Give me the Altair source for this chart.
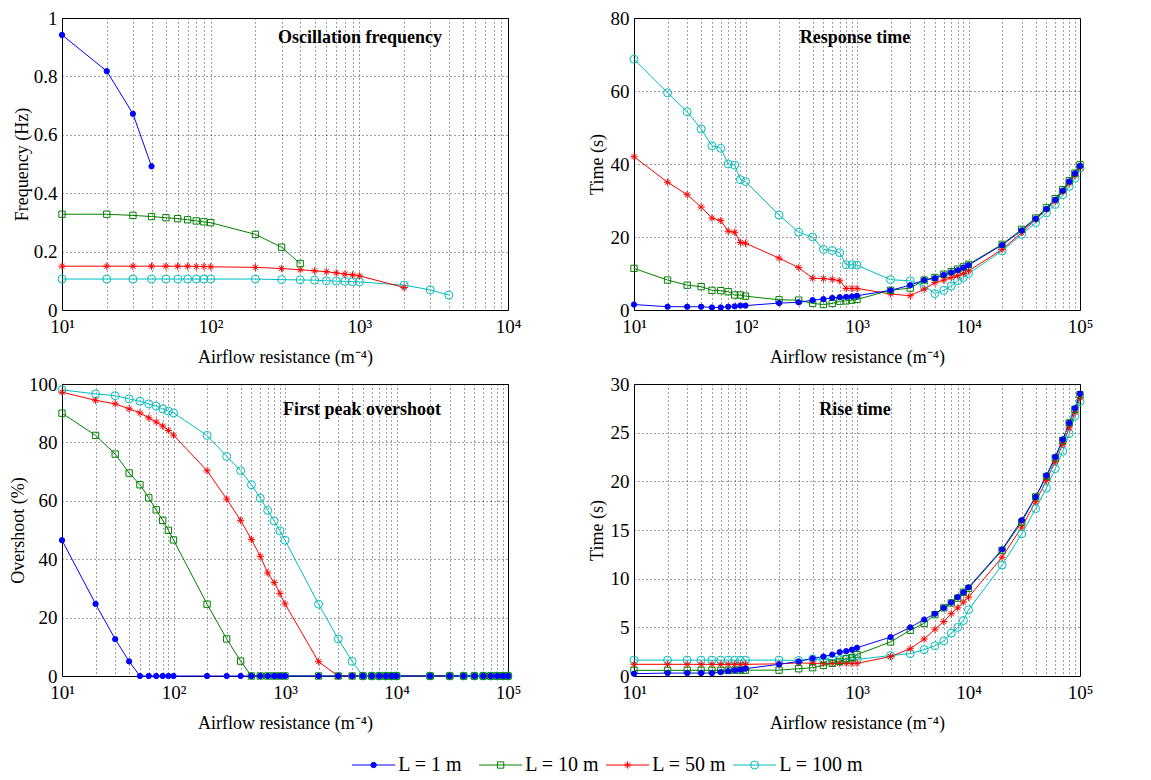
import altair as alt
import pandas as pd

FONT = "Liberation Serif"

SERIES = ["L = 1 m", "L = 10 m", "L = 50 m", "L = 100 m"]
COLORS = ["#0000ff", "#008000", "#ff0000", "#00bfbf"]
ASTERISK = "M0,-1L0,1M-1,0L1,0M-0.7,-0.7L0.7,0.7M-0.7,0.7L0.7,-0.7"
SHAPES = ["circle", "square", ASTERISK, "circle"]
FILLS = ["#0000ff", "transparent", "transparent", "transparent"]
SIZES = [28, 64, 95, 70]
DRAW_ORDER = ["L = 100 m", "L = 50 m", "L = 10 m", "L = 1 m"]

# x tick / grid positions
XTICKS_4 = [10, 20, 30, 40, 50, 60, 70, 80, 90,
            100, 200, 300, 400, 500, 600, 700, 800, 900,
            1000, 2000, 3000, 4000, 5000, 6000, 7000, 8000, 9000, 10000]
XTICKS_5 = XTICKS_4 + [20000, 30000, 40000, 50000, 60000, 70000, 80000, 90000, 100000]

# common airflow resistance values used by panels 2-4
X_ALL = [10, 20, 30, 40, 50, 60, 70, 80, 90,
         100, 200, 300, 400, 500, 600, 700, 800, 900,
         1000, 2000, 3000, 4000, 5000, 6000, 7000, 8000, 9000,
         10000, 20000, 30000, 40000, 50000, 60000, 70000, 80000, 90000, 100000]

# ---- Panel 1: oscillation frequency (Hz)
FREQ_X_L1 = [10, 20, 30, 40]
FREQ_L1 = [0.942, 0.818, 0.672, 0.492]
FREQ_X_L10 = [10, 20, 30, 40, 50, 60, 70, 80, 90, 100, 200, 300, 400]
FREQ_L10 = [0.328, 0.328, 0.324, 0.320, 0.316, 0.313, 0.309, 0.305, 0.302, 0.299, 0.259, 0.215, 0.159]
FREQ_X_L50 = [10, 20, 30, 40, 50, 60, 70, 80, 90, 100, 200, 300, 400, 500, 600, 700, 800, 900, 1000, 2000]
FREQ_L50 = [0.150, 0.150, 0.150, 0.150, 0.150, 0.150, 0.150, 0.149, 0.149, 0.148,
            0.146, 0.142, 0.138, 0.134, 0.131, 0.127, 0.123, 0.120, 0.117, 0.077]
FREQ_X_L100 = [10, 20, 30, 40, 50, 60, 70, 80, 90, 100, 200, 300, 400, 500, 600, 700, 800, 900, 1000,
               2000, 3000, 4000]
FREQ_L100 = [0.106, 0.106, 0.106, 0.106, 0.106, 0.106, 0.106, 0.106, 0.106, 0.106,
             0.106, 0.104, 0.103, 0.102, 0.100, 0.099, 0.098, 0.097, 0.096,
             0.085, 0.069, 0.051]

# ---- Panel 2: response time (s)
RESP_L1 = [1.5, 0.9, 0.9, 0.9, 0.7, 0.7, 0.9, 1.0, 1.2, 1.2,
           1.9, 2.1, 2.7, 3.0, 3.3, 3.5, 3.6, 3.7, 3.9,
           5.4, 6.8, 8.2, 8.7, 9.6, 10.3, 10.9, 11.6, 12.3,
           17.8, 21.8, 25.0, 27.7, 30.2, 32.7, 35.2, 37.4, 39.5]
RESP_L10 = [11.4, 8.2, 6.8, 6.4, 5.4, 5.3, 5.0, 4.1, 4.1, 3.8,
            2.8, 2.7, 1.8, 1.5, 1.8, 2.4, 2.5, 2.7, 2.9,
            5.4, 6.0, 8.2, 8.9, 9.8, 10.5, 11.2, 11.8, 12.5,
            18.0, 22.1, 25.2, 28.0, 30.5, 33.0, 35.4, 37.5, 39.8]
RESP_L50 = [42.0, 35.0, 31.6, 28.2, 25.2, 24.5, 21.6, 21.3, 18.5, 18.3,
            14.2, 11.6, 8.7, 8.6, 8.4, 8.0, 5.9, 5.9, 5.9,
            4.4, 3.9, 5.7, 7.5, 8.2, 8.9, 9.4, 10.0, 10.7,
            16.6, 21.2, 24.8, 27.5, 29.8, 32.5, 34.8, 36.9, 39.1]
RESP_L100 = [68.7, 59.5, 54.3, 49.6, 45.0, 44.3, 40.0, 39.7, 35.7, 35.2,
             26.0, 21.3, 20.0, 16.6, 16.3, 15.7, 12.4, 12.4, 12.3,
             8.3, 8.0, 6.6, 4.5, 5.4, 6.6, 8.0, 8.9, 10.0,
             16.2, 20.7, 23.9, 26.6, 28.9, 31.6, 33.9, 36.1, 38.9]

# ---- Panel 3: first peak overshoot (%)
OVER_L1 = [46.5, 24.7, 12.6, 5.0, 0, 0, 0, 0, 0, 0,
           0, 0, 0, 0, 0, 0, 0, 0, 0,
           0, 0, 0, 0, 0, 0, 0, 0, 0,
           0, 0, 0, 0, 0, 0, 0, 0, 0]
OVER_L10 = [90.0, 82.4, 76.0, 69.5, 65.5, 61.0, 56.9, 53.3, 49.9, 46.6,
            24.6, 12.7, 5.1, 0, 0, 0, 0, 0, 0,
            0, 0, 0, 0, 0, 0, 0, 0, 0,
            0, 0, 0, 0, 0, 0, 0, 0, 0]
OVER_L50 = [97.2, 94.4, 93.2, 91.5, 90.1, 88.4, 87.0, 85.6, 84.1, 82.5,
            70.3, 60.6, 53.3, 46.8, 41.0, 35.3, 32.0, 28.3, 24.7,
            4.9, 0, 0, 0, 0, 0, 0, 0, 0,
            0, 0, 0, 0, 0, 0, 0, 0, 0]
OVER_L100 = [98.0, 96.6, 96.0, 94.9, 94.1, 93.2, 92.4, 91.5, 90.7, 90.1,
             82.4, 75.2, 70.3, 65.5, 60.9, 56.7, 53.1, 49.7, 46.5,
             24.6, 12.7, 5.0, 0, 0, 0, 0, 0, 0,
             0, 0, 0, 0, 0, 0, 0, 0, 0]

# ---- Panel 4: rise time (s)
RISE_L1 = [0.24, 0.3, 0.3, 0.3, 0.3, 0.4, 0.5, 0.6, 0.65, 0.75,
           1.2, 1.5, 1.8, 2.0, 2.2, 2.45, 2.55, 2.7, 2.9,
           4.0, 5.0, 5.8, 6.4, 7.0, 7.55, 8.1, 8.6, 9.1,
           13.0, 16.0, 18.4, 20.6, 22.5, 24.3, 26.0, 27.5, 29.0]
RISE_L10 = [0.58, 0.58, 0.58, 0.58, 0.58, 0.58, 0.58, 0.6, 0.6, 0.6,
            0.6, 0.75, 0.85, 1.1, 1.3, 1.5, 1.8, 1.9, 2.2,
            3.5, 4.7, 5.4, 6.3, 7.0, 7.5, 8.0, 8.6, 9.0,
            12.9, 15.8, 18.4, 20.5, 22.4, 24.2, 26.0, 27.4, 28.9]
RISE_L50 = [1.2, 1.2, 1.2, 1.2, 1.2, 1.2, 1.2, 1.2, 1.2, 1.2,
            1.25, 1.35, 1.3, 1.3, 1.3, 1.3, 1.3, 1.3, 1.3,
            2.0, 2.8, 3.8, 4.8, 5.6, 6.4, 7.0, 7.6, 8.1,
            12.2, 15.3, 17.9, 20.1, 22.0, 23.8, 25.5, 27.1, 28.6]
RISE_L100 = [1.63, 1.63, 1.63, 1.63, 1.63, 1.63, 1.63, 1.63, 1.63, 1.63,
             1.63, 1.6, 1.75, 1.7, 1.7, 1.7, 1.7, 1.7, 1.7,
             2.1, 2.3, 2.7, 3.1, 3.6, 4.4, 5.0, 5.7, 6.8,
             11.4, 14.6, 17.2, 19.3, 21.3, 23.1, 24.9, 26.7, 28.2]


def make_df(pairs):
    rows = []
    for name in DRAW_ORDER:
        xs, ys = pairs[name]
        for xv, yv in zip(xs, ys):
            rows.append({"series": name, "x": xv, "y": yv})
    return pd.DataFrame(rows)


df_freq = make_df({"L = 1 m": (FREQ_X_L1, FREQ_L1), "L = 10 m": (FREQ_X_L10, FREQ_L10),
                   "L = 50 m": (FREQ_X_L50, FREQ_L50), "L = 100 m": (FREQ_X_L100, FREQ_L100)})
df_resp = make_df({"L = 1 m": (X_ALL, RESP_L1), "L = 10 m": (X_ALL, RESP_L10),
                   "L = 50 m": (X_ALL, RESP_L50), "L = 100 m": (X_ALL, RESP_L100)})
df_over = make_df({"L = 1 m": (X_ALL, OVER_L1), "L = 10 m": (X_ALL, OVER_L10),
                   "L = 50 m": (X_ALL, OVER_L50), "L = 100 m": (X_ALL, OVER_L100)})
df_rise = make_df({"L = 1 m": (X_ALL, RISE_L1), "L = 10 m": (X_ALL, RISE_L10),
                   "L = 50 m": (X_ALL, RISE_L50), "L = 100 m": (X_ALL, RISE_L100)})

cscale = alt.Scale(domain=SERIES, range=COLORS)
fscale = alt.Scale(domain=SERIES, range=FILLS)
sscale = alt.Scale(domain=SERIES, range=SHAPES)
zscale = alt.Scale(domain=SERIES, range=SIZES)

LABEL_EXPR = ("abs(log(datum.value)/LN10 - round(log(datum.value)/LN10)) < 1e-6 ? "
              "'10' + ['⁰','¹','²','³','⁴','⁵'][round(log(datum.value)/LN10)] : ''")

PW, PH = 446, 292


def panel(df, xticks, ydomain, yticks, ytitle, title, tx, ty, ytx):
    xenc = alt.X("x:Q",
                 scale=alt.Scale(type="log", domain=[xticks[0], xticks[-1]], nice=False),
                 axis=alt.Axis(values=xticks, labelExpr=LABEL_EXPR, title="Airflow resistance (m⁻⁴)",
                               labelFlush=False, labelOverlap=False, labelPadding=7, titlePadding=12))
    yenc = alt.Y("y:Q", scale=alt.Scale(domain=ydomain, nice=False, zero=False),
                 axis=alt.Axis(values=yticks, format=".2~f", title=ytitle, labelFlush=False,
                               labelPadding=5, titleX=ytx, titleY=PH / 2,
                               titleBaseline="middle", titleAlign="center", titleAngle=270))
    base = alt.Chart(df).encode(x=xenc, y=yenc)
    lines = base.mark_line(strokeWidth=1).encode(
        color=alt.Color("series:N", scale=cscale, legend=None),
        detail="series:N")
    pts = base.mark_point(filled=False, strokeWidth=1, opacity=1).encode(
        color=alt.Color("series:N", scale=cscale, legend=None),
        fill=alt.Fill("series:N", scale=fscale, legend=None),
        shape=alt.Shape("series:N", scale=sscale, legend=None),
        size=alt.Size("series:N", scale=zscale, legend=None))
    ttl = alt.Chart(pd.DataFrame({"t": [title]})).mark_text(
        font=FONT, fontSize=18, fontWeight="bold", align="center", baseline="middle", color="black"
    ).encode(text="t:N", x=alt.value(tx), y=alt.value(ty))
    return alt.layer(lines, pts, ttl).properties(width=PW, height=PH)


p1 = panel(df_freq, XTICKS_4, [0, 1], [0, 0.2, 0.4, 0.6, 0.8, 1], "Frequency (Hz)",
           "Oscillation frequency", 298, 20, -40)
p2 = panel(df_resp, XTICKS_5, [0, 80], [0, 20, 40, 60, 80], "Time (s)",
           "Response time", 221, 20, -37)
p3 = panel(df_over, XTICKS_5, [0, 100], [0, 20, 40, 60, 80, 100], "Overshoot (%)",
           "First peak overshoot", 300, 26, -44)
p4 = panel(df_rise, XTICKS_5, [0, 30], [0, 5, 10, 15, 20, 25, 30], "Time (s)",
           "Rise time", 221, 26, -37)

# ---- legend (manual, line + marker + text)
X0 = 62          # page x of the legend view's left edge (aligned with left plot area)
LEG_START = 352  # page x of first legend sample
UNIT = 127       # pixels per legend item
LEG_W = 880 - X0
d0 = -(LEG_START - X0) / UNIT
d1 = d0 + LEG_W / UNIT

leg_df = pd.DataFrame({"series": SERIES, "idx": [0, 1, 2, 3]})
lbase = alt.Chart(leg_df).transform_calculate(
    a="datum.idx", b="datum.idx + 0.34", m="datum.idx + 0.17", t="datum.idx + 0.365")
lx = alt.Scale(domain=[d0, d1], nice=False, zero=False)
lrule = lbase.mark_rule(strokeWidth=1).encode(
    x=alt.X("a:Q", scale=lx, axis=None), x2="b:Q", y=alt.value(10),
    color=alt.Color("series:N", scale=cscale, legend=None))
lpts = lbase.mark_point(filled=False, strokeWidth=1, opacity=1).encode(
    x=alt.X("m:Q", scale=lx, axis=None), y=alt.value(10),
    color=alt.Color("series:N", scale=cscale, legend=None),
    fill=alt.Fill("series:N", scale=fscale, legend=None),
    shape=alt.Shape("series:N", scale=sscale, legend=None),
    size=alt.Size("series:N", scale=zscale, legend=None))
ltxt = lbase.mark_text(align="left", baseline="middle", font=FONT, fontSize=20, color="black").encode(
    x=alt.X("t:Q", scale=lx, axis=None), y=alt.value(10), text="series:N")
legend = alt.layer(lrule, lpts, ltxt).properties(
    width=LEG_W, height=20, view=alt.ViewBackground(stroke="transparent"))

row1 = alt.hconcat(p1, p2, spacing=65).resolve_scale(x="independent", y="independent")
row2 = alt.hconcat(p3, p4, spacing=65).resolve_scale(x="independent", y="independent")
grid = alt.vconcat(row1, row2, spacing=7).resolve_scale(x="independent", y="independent")
chart = alt.vconcat(grid, legend, spacing=21).resolve_scale(x="independent", y="independent").properties(
    padding={"left": 0, "right": 0, "top": 0, "bottom": 0}, background="white"
).configure_view(stroke="black", strokeWidth=1).configure_axis(
    labelFont=FONT, titleFont=FONT, labelFontSize=19, titleFontSize=18, titleFontWeight="normal",
    labelColor="black", titleColor="black", domain=False, ticks=False, grid=True,
    gridColor="black", gridDash=[1, 3], gridOpacity=0.75, gridWidth=1)

chart.save("out.html", embed_options={"renderer": "svg", "actions": False})
